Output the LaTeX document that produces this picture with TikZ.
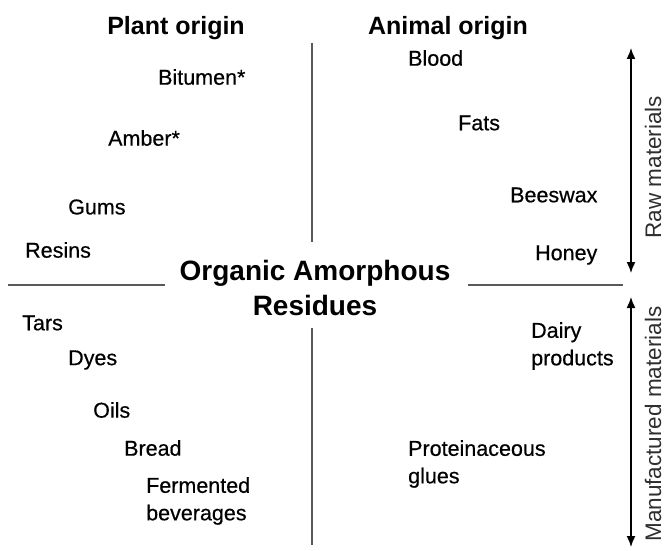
\documentclass[tikz,border=0pt]{standalone}
\usepackage{fontspec}
\setmainfont{Liberation Sans}
\newfontfamily\labelfont[FakeBold=0.5]{Liberation Sans}
\usetikzlibrary{arrows.meta}
\begin{document}
\begin{tikzpicture}[x=1pt,y=-1pt,
    item/.style={anchor=west,inner sep=0pt,font=\labelfont\fontsize{21.5}{27.5}\selectfont},
    head/.style={inner sep=0pt,font=\fontsize{25}{28}\selectfont\bfseries},
    divider/.style={draw=black!65,line width=1.4pt},
    spanarrow/.style={line width=1.5pt,{Latex[length=11pt,width=9pt]}-{Latex[length=11pt,width=9pt]}},
    side/.style={rotate=90,inner sep=0pt,font=\fontsize{22.5}{25}\selectfont,text=black!82}]
    \useasboundingbox (0,0) rectangle (665,551);

    % headings
    \node[head] (plant) at (176,28) {Plant origin};
    \node[head] (animal) at (448,28) {Animal origin};
    \node[align=center,inner sep=0pt,font=\fontsize{28}{35}\selectfont\bfseries]
        (oar) at (315,288) {Organic Amorphous\\Residues};

    % plant, raw
    \node[item] (bitumen) at (158,77)  {Bitumen*};
    \node[item] (amber)   at (108,138) {Amber*};
    \node[item] (gums)    at (68,207)  {Gums};
    \node[item] (resins)  at (25,250)  {Resins};
    % animal, raw
    \node[item] (blood)   at (408,58)  {Blood};
    \node[item] (fats)    at (458,123) {Fats};
    \node[item] (beeswax) at (510,195) {Beeswax};
    \node[item] (honey)   at (535,255) {Honey};
    % plant, manufactured
    \node[item] (tars)    at (22,323)  {Tars};
    \node[item] (dyes)    at (68,360)  {Dyes};
    \node[item] (oils)    at (93,410)  {Oils};
    \node[item] (bread)   at (124,448) {Bread};
    \node[item,align=left] (ferm) at (146,501) {Fermented\\beverages};
    % animal, manufactured
    \node[item,align=left] (dairy) at (531,346) {Dairy\\products};
    \node[item,align=left] (glues) at (408,464) {Proteinaceous\\glues};

    % dividers
    \coordinate (vt1) at (312,43);
    \coordinate (vt2) at (312,242);
    \coordinate (vb1) at (312,328);
    \coordinate (vb2) at (312,545);
    \coordinate (hl1) at (8,285);
    \coordinate (hl2) at (165,285);
    \coordinate (hr1) at (468,285);
    \coordinate (hr2) at (623,285);
    \draw[divider] (vt1) -- (vt2)
                   (vb1) -- (vb2)
                   (hl1) -- (hl2)
                   (hr1) -- (hr2);

    % raw / manufactured ranges
    \coordinate (r1) at (631,48);
    \coordinate (r2) at (631,273);
    \coordinate (m1) at (631,297);
    \coordinate (m2) at (631,547);
    \draw[spanarrow] (r1) -- (r2);
    \draw[spanarrow] (m1) -- (m2);
    \node[side] (raw) at (653,167) {Raw materials};
    \node[side] (manu) at (653,424) {Manufactured materials};
\end{tikzpicture}
\end{document}
